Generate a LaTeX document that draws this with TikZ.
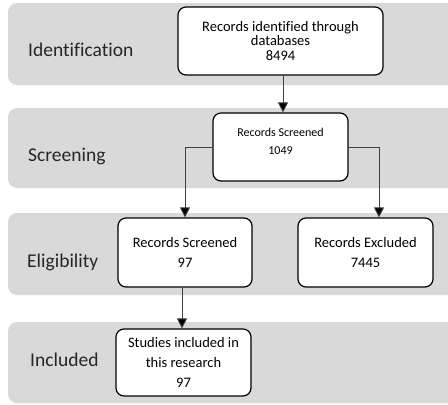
\documentclass[tikz,border=0pt]{standalone}
\usepackage{fontspec}
\setmainfont{Carlito}[Ligatures=NoCommon]
\usetikzlibrary{arrows.meta}
\definecolor{bandgray}{HTML}{D9D9D9}
\definecolor{linegray}{HTML}{404040}
\tikzset{
	band/.style={fill=bandgray,rounded corners=9pt},
	stage/.style={anchor=west,inner sep=0pt,text=black!85,font=\fontsize{19.5}{20}\selectfont},
	rec/.style={draw,fill=white,line width=1.2pt,rounded corners=8pt,align=center,inner sep=2pt,
		font=\fontsize{14.5}{20}\selectfont,minimum width=#1},
	flow/.style={draw=linegray,line width=0.9pt,-{Triangle[width=10pt,length=10pt,fill=black]}}
}

\begin{document}
\begin{tikzpicture}[x=1pt,y=-1pt]
		\useasboundingbox (0,0) rectangle (448,405);
		\clip (0,0) rectangle (448,405);
		\fill[band] (8,3) rectangle (470,85);
		\fill[band] (8,108) rectangle (470,188);
		\fill[band] (8,213) rectangle (470,295);
		\fill[band] (8,322) rectangle (470,403);
		\node[stage] (sIdent) at (28,50) {Identification};
		\node[stage] (sScreen) at (28,156) {Screening};
		\node[stage] (sElig) at (27,262) {Eligibility};
		\node[stage] (sIncl) at (30,360) {Included};
		\node[rec=205pt,minimum height=68pt,font=\fontsize{14.5}{14.5}\selectfont] (ident) at (280.5,41) {Records identified through\\databases\\8494};
		\node[rec=135pt,minimum height=68pt,font=\fontsize{12}{18}\selectfont,text depth=12pt] (screen) at (280.5,147) {Records Screened\\1049};
		\node[rec=134pt,minimum height=69pt] (elig) at (185,252.5) {Records Screened\\97};
		\node[rec=135pt,minimum height=69pt] (excl) at (365.5,252.5) {Records Excluded\\7445};
		\node[rec=135pt,minimum height=67pt] (incl) at (183.5,362.5) {Studies included in\\this research\\97};
		\coordinate (exclIn) at ([xshift=13.5pt]excl.north);
		\coordinate (inclOut) at ([xshift=-3pt]elig.south);
		\draw[flow] ([xshift=2.5pt]ident.south) -- ([xshift=2.5pt]screen.north);
		\draw[flow] (screen.west) -| (elig.north);
		\draw[flow] (screen.east) -| (exclIn);
		\draw[flow] (inclOut) -- (inclOut |- incl.north);
	\end{tikzpicture}
\end{document}
